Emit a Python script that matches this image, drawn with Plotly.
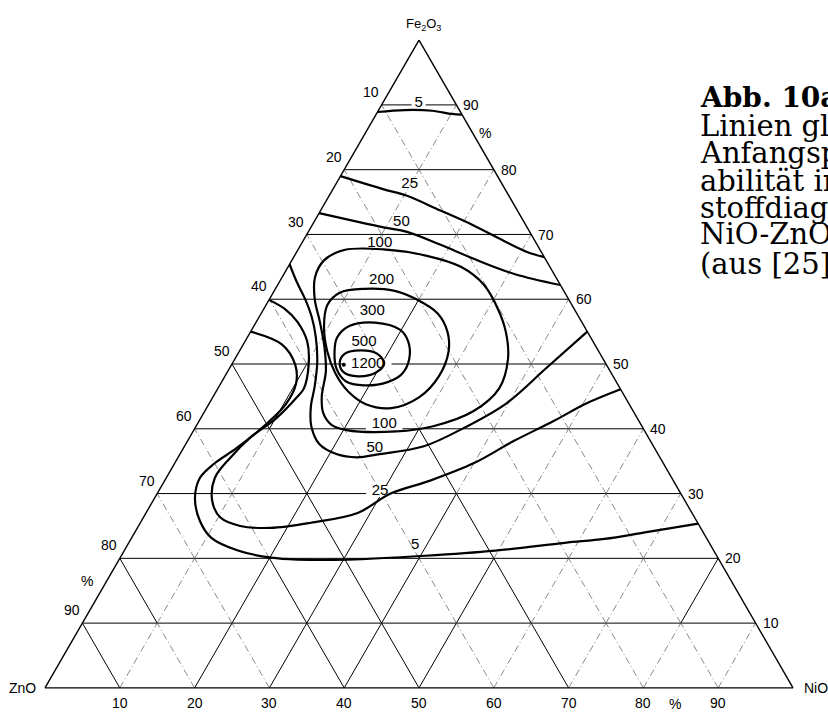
import plotly.graph_objects as go

# Percent ticks along the three edges
TICKS = [10, 20, 30, 40, 50, 60, 70, 80, 90]

# Iso-permeability lines, given as Fe2O3 % and NiO % (ZnO is the remainder to 100)
C5_TOP_FE = [88.9, 89.2, 89.1, 88.6, 88.5]
C5_TOP_NI = [0.0, 3.5, 7.2, 10.1, 11.5]

C25_TOP_FE = [79.0, 77.0, 76.0, 73.7, 71.4, 68.8, 67.3, 66.5]
C25_TOP_NI = [0.0, 6.7, 10.3, 16.0, 21.6, 27.3, 30.8, 33.5]

C50_TOP_FE = [73.3, 71.1, 70.4, 68.4, 66.2, 63.9, 62.2]
C50_TOP_NI = [0.0, 9.7, 13.2, 18.7, 24.3, 30.8, 37.8]

C5_LOW_FE = [55.0, 53.0, 49.9, 46.9, 43.8, 40.7, 37.0, 34.6, 32.4, 29.3, 25.8, 23.2,
             21.2, 20.1, 19.8, 19.8, 20.4, 21.2, 22.4, 23.0, 24.0, 25.0, 25.35]
C5_LOW_NI = [0.0, 5.2, 8.5, 10.1, 10.3, 9.2, 7.1, 5.3, 4.5, 5.4, 7.8, 10.6,
             15.2, 20.2, 23.9, 30.6, 40.6, 49.6, 58.3, 63.3, 68.2, 73.0, 74.65]

C25_LOW_FE = [59.9, 58.5, 56.5, 53.5, 49.9, 46.2, 44.7, 41.6, 38.6, 35.5, 32.4, 28.9,
              26.3, 25.0, 24.7, 25.5, 27.0, 30.0, 32.0, 34.7, 38.1, 41.2, 43.9, 46.1]
C25_LOW_NI = [0.0, 2.8, 5.5, 8.3, 10.3, 11.5, 11.2, 10.1, 8.1, 7.0, 6.5, 7.9,
              10.3, 13.6, 17.8, 22.8, 28.3, 31.2, 35.5, 40.0, 43.6, 47.4, 50.4, 53.9]

C50_LOW_FE = [65.4, 62.7, 60.1, 57.3, 54.2, 50.4, 46.5, 43.5, 40.4, 37.6, 36.1, 35.6,
              36.1, 37.3, 40.1, 43.9, 49.3, 55.0]
C50_LOW_NI = [0.0, 2.3, 4.7, 7.0, 9.1, 11.2, 12.8, 13.8, 15.4, 17.9, 20.9, 23.9,
              26.7, 32.0, 35.9, 39.7, 42.3, 45.0]

C100_FE = [67.7, 67.6, 66.0, 63.4, 60.1, 56.5, 52.7, 48.9, 45.0, 42.4, 40.6, 39.8,
           39.6, 40.4, 42.7, 46.2, 50.8, 55.0, 58.5, 62.2, 65.0, 66.7, 67.7]
C100_NI = [11.4, 6.2, 4.3, 4.4, 6.0, 8.5, 11.0, 13.1, 14.5, 16.0, 18.0, 20.4,
           27.2, 31.7, 35.9, 37.6, 36.5, 34.1, 31.3, 27.6, 23.1, 17.7, 11.4]

C200_FE = [61.6, 61.0, 59.1, 55.8, 51.9, 48.5, 45.8, 43.8, 43.2, 44.9, 48.1, 51.9,
           55.0, 57.8, 60.1, 61.3, 61.6]
C200_NI = [11.9, 8.9, 8.2, 9.4, 11.8, 14.6, 17.6, 21.0, 24.7, 27.6, 28.6, 28.0,
           26.3, 23.6, 19.4, 16.1, 11.9]

C300_FE = [56.4, 55.9, 54.1, 51.6, 49.2, 47.3, 46.7, 47.2, 48.5, 50.8, 53.5, 55.3, 56.4]
C300_NI = [15.9, 12.8, 12.0, 12.9, 14.4, 16.6, 19.3, 22.2, 23.5, 23.3, 21.8, 19.8, 15.9]

C500_FE = [52.1, 51.6, 50.2, 48.7, 48.1, 48.7, 50.1, 51.6, 52.1]
C500_NI = [16.1, 14.3, 14.3, 15.6, 17.8, 19.9, 20.3, 18.6, 16.1]

# Composition with the highest permeability (1200)
PEAK_FE = [49.9]
PEAK_NI = [15.0]

CONTOURS = [
    (C5_TOP_FE, C5_TOP_NI), (C25_TOP_FE, C25_TOP_NI), (C50_TOP_FE, C50_TOP_NI),
    (C5_LOW_FE, C5_LOW_NI), (C25_LOW_FE, C25_LOW_NI), (C50_LOW_FE, C50_LOW_NI),
    (C100_FE, C100_NI), (C200_FE, C200_NI), (C300_FE, C300_NI), (C500_FE, C500_NI),
]

# Level labels and where they sit (Fe2O3 %, NiO %)
LEVEL_TEXT = ["5", "25", "50", "100", "200", "300", "500", "1200", "100", "50", "25", "5"]
LEVEL_FE = [90.3, 77.7, 71.9, 68.7, 63.0, 58.1, 53.3, 49.9, 40.7, 37.0, 30.4, 22.0]
LEVEL_NI = [4.8, 9.9, 11.7, 10.4, 13.5, 14.7, 16.0, 18.2, 25.0, 25.6, 29.6, 38.5]
LEVEL_GAP = [10, 0, 0, 26, 0, 0, 0, 34, 26, 0, 20, 0]   # width of the break cut into the grid

# Grid segments (10 % steps) printed solid; all others are dash-dotted.
# key: constant value of the oxide, value: lower Fe2O3 bound of each solid segment
SOLID_NIO = {10: [40], 20: [0, 10, 20, 30, 40, 50], 30: [0, 10, 20, 30],
             40: [0, 10, 20], 50: [0, 10], 80: [10]}
SOLID_ZNO = {90: [0], 80: [10], 60: [0, 10], 50: [0, 10, 20, 30, 40], 30: [0, 10, 20, 30]}

CAPTION = ["<b>Abb. 10a.</b>", "Linien gleicher", "Anfangsperme-", "abilität im Drei-",
           "stoffdiagramm", "NiO-ZnO-Fe<sub>2</sub>O<sub>3</sub>", "(aus [25])"]

# Triangle placement on the page (pixels)
W, H = 828, 714
X_LEFT, X_RIGHT, Y_BASE = 45, 793, 688
TRI_H = (X_RIGHT - X_LEFT) * 3 ** 0.5 / 2

fig = go.Figure()


def paper_xy(fe, ni, dx=0.0, dy=0.0):
    """Paper coordinates of a composition, nudged by (dx, dy) pixels."""
    x = X_LEFT + (X_RIGHT - X_LEFT) * (ni + fe / 2) / 100 + dx
    y = Y_BASE - TRI_H * fe / 100 + dy
    return x / W, 1 - y / H


def label(fe, ni, dx, dy, text, size=14, family="Liberation Sans"):
    x, y = paper_xy(fe, ni, dx, dy)
    fig.add_annotation(xref="paper", yref="paper", x=x, y=y, text=text,
                       showarrow=False, xanchor="center", yanchor="middle",
                       font=dict(family=family, size=size, color="black"))


def add_lines(a, b, c, width, dash="solid", color="black"):
    fig.add_trace(go.Scatterternary(
        a=a, b=b, c=c, mode="lines", connectgaps=False,
        line=dict(color=color, width=width, dash=dash),
        hoverinfo="skip", showlegend=False))


# --- horizontal grid lines (constant Fe2O3) ---
ha, hb, hc = [], [], []
for t in TICKS:
    ha += [t, t, None]
    hb += [100 - t, 0, None]
    hc += [0, 100 - t, None]
add_lines(ha, hb, hc, 1.0)

# --- inclined grid lines (constant NiO and constant ZnO) ---
sol = {"a": [], "b": [], "c": []}
dsh = {"a": [], "b": [], "c": []}
for v in TICKS:
    for f in range(0, 100 - v, 10):
        tgt = sol if f in SOLID_NIO.get(v, []) else dsh
        tgt["a"] += [f, f + 10, None]
        tgt["c"] += [v, v, None]
        tgt["b"] += [100 - f - v, 90 - f - v, None]
        tgt = sol if f in SOLID_ZNO.get(v, []) else dsh
        tgt["a"] += [f, f + 10, None]
        tgt["b"] += [v, v, None]
        tgt["c"] += [100 - f - v, 90 - f - v, None]
add_lines(sol["a"], sol["b"], sol["c"], 1.0)
add_lines(dsh["a"], dsh["b"], dsh["c"], 0.7, dash="7px,3px,1px,3px", color="#555")

# --- white breaks in the grid behind level labels ---
for txt, fe, ni, gap in zip(LEVEL_TEXT, LEVEL_FE, LEVEL_NI, LEVEL_GAP):
    if gap:
        fig.add_trace(go.Scatterternary(
            a=[fe], b=[100 - fe - ni], c=[ni], mode="markers",
            marker=dict(symbol="line-ew", size=gap, color="white",
                        line=dict(color="white", width=12)),
            hoverinfo="skip", showlegend=False))

# --- iso-permeability lines ---
for fe, ni in CONTOURS:
    fig.add_trace(go.Scatterternary(
        a=fe, c=ni, b=[100 - x - y for x, y in zip(fe, ni)], mode="lines",
        line=dict(color="black", width=2.2, shape="spline", smoothing=1.0),
        hoverinfo="skip", showlegend=False))

fig.add_trace(go.Scatterternary(
    a=PEAK_FE, c=PEAK_NI, b=[100 - PEAK_FE[0] - PEAK_NI[0]], mode="markers",
    marker=dict(color="black", size=4), hoverinfo="skip", showlegend=False))

# --- level labels ---
fig.add_trace(go.Scatterternary(
    a=LEVEL_FE, c=LEVEL_NI, b=[100 - x - y for x, y in zip(LEVEL_FE, LEVEL_NI)],
    mode="text", text=LEVEL_TEXT, textposition="middle center",
    textfont=dict(family="Liberation Sans", size=15, color="black"),
    hoverinfo="skip", showlegend=False))

# --- edge tick labels ---
for t in TICKS:
    label(100 - t, 0, -10.5, -13, str(t))      # ZnO along the left edge
    label(t, 100 - t, 15, 0, str(t))          # Fe2O3 along the right edge
    label(0, t, 0, 15, str(t))                # NiO along the bottom edge

# percent signs
label(16.5, 0, -20, 0, "%")
label(86, 14, 14, 2, "%")
label(0, 85, -6, 16, "%")

# corner names
label(100, 0, 4, -16, "Fe<sub>2</sub>O<sub>3</sub>", size=13)
label(0, 0, -23, 0, "ZnO", size=14)
label(0, 100, 23, 0, "NiO", size=14)

axis = dict(showgrid=False, showticklabels=False, ticks="", linecolor="black",
            linewidth=1.4, min=0, title=dict(text=""))

fig.update_layout(
    width=W, height=H,
    margin=dict(l=0, r=0, t=0, b=0),
    paper_bgcolor="white",
    showlegend=False, hovermode=False,
    ternary=dict(sum=100, bgcolor="white",
                 domain=dict(x=[X_LEFT / W, X_RIGHT / W],
                             y=[(H - Y_BASE) / H, (H - Y_BASE + TRI_H + 0.2) / H]),
                 aaxis=axis, baxis=axis, caxis=axis),
)

# caption block at the right
for i, line in enumerate(CAPTION):
    fig.add_annotation(
        xref="paper", yref="paper", x=698 / W, y=1 - (98 + 27.6 * i) / H,
        xanchor="left", yanchor="middle", showarrow=False, text=line,
        font=dict(family="DejaVu Serif", size=28 if i == 0 else 29, color="black"))

fig.write_html("out.html", config={"displayModeBar": False})
